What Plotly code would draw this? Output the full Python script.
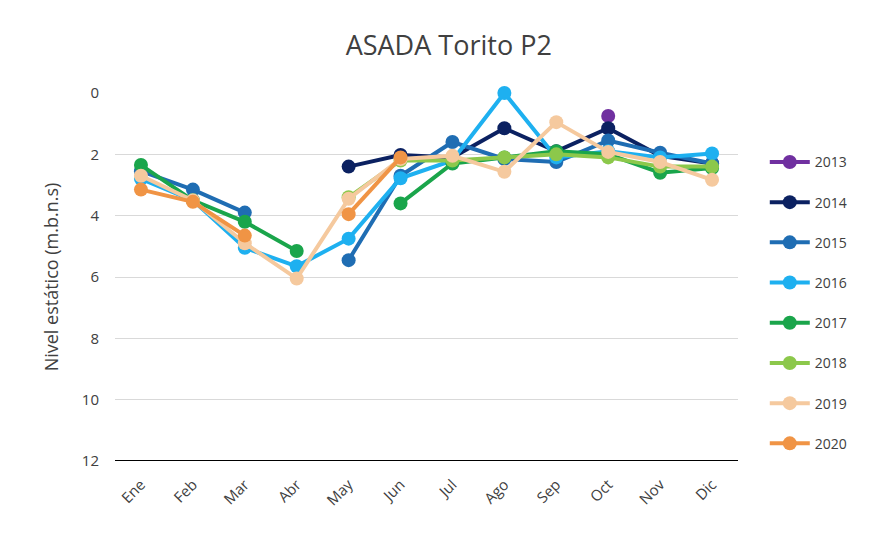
import plotly.graph_objects as go

months = ["Ene", "Feb", "Mar", "Abr", "May", "Jun", "Jul", "Ago", "Sep", "Oct", "Nov", "Dic"]
years = ["2013", "2014", "2015", "2016", "2017", "2018", "2019", "2020"]

v2013 = [None, None, None, None, None, None, None, None, None, 0.75, None, None]
v2014 = [None, None, None, None, 2.4, 2.02, 2.1, 1.15, 1.9, 1.15, 2.05, 2.3]
v2015 = [2.55, 3.15, 3.9, None, 5.45, 2.7, 1.6, 2.15, 2.25, 1.55, 1.95, 2.3]
v2016 = [2.8, 3.5, 5.05, 5.65, 4.75, 2.78, 2.2, 0.0, 2.1, 1.9, 2.1, 1.97]
v2017 = [2.35, 3.5, 4.2, 5.15, None, 3.6, 2.3, 2.1, 1.9, 2.0, 2.6, 2.45]
v2018 = [None, None, None, None, 3.4, 2.2, 2.2, 2.1, 2.0, 2.1, 2.4, 2.4]
v2019 = [2.7, 3.5, 4.9, 6.05, 3.45, 2.15, 2.05, 2.57, 0.95, 1.92, 2.25, 2.83]
v2020 = [3.15, 3.55, 4.65, None, 3.95, 2.1, None, None, None, None, None, None]

series = [v2013, v2014, v2015, v2016, v2017, v2018, v2019, v2020]
colors = ["#7030A0", "#0B2161", "#1F6DB3", "#1EB0F0", "#1AA54B", "#8CC84B", "#F5C99E", "#F09445"]

xs = list(range(len(months)))
fig = go.Figure()
for name, vals, col in zip(years, series, colors):
    fig.add_trace(go.Scatter(
        x=xs, y=vals, name=name, mode="lines+markers",
        line=dict(color=col, width=4),
        marker=dict(color=col, size=14),
        legendgroup=name, cliponaxis=False,
    ))

fig.update_layout(
    width=878, height=534,
    paper_bgcolor="white", plot_bgcolor="white",
    margin=dict(l=107, r=148, t=85, b=81),
    title=dict(text="ASADA Torito P2", x=0.502, xref="container", xanchor="center",
               y=0.93, yanchor="middle",
               font=dict(family="Open Sans, Liberation Sans, sans-serif", size=27, color="#404040")),
    font=dict(family="Open Sans, Liberation Sans, sans-serif", color="#404040"),
    legend=dict(x=1.043, xanchor="left", y=0.855, yanchor="top",
                font=dict(size=14, color="#404040"), tracegroupgap=19,
                itemwidth=40, bgcolor="rgba(0,0,0,0)"),
    showlegend=True,
)
fig.update_xaxes(
    range=[-0.5, 11.5], tickvals=xs, ticktext=months, tickangle=-45,
    showgrid=False, zeroline=False, showline=False,
    tickfont=dict(size=15, color="#404040"), ticks="outside", ticklen=8,
    tickcolor="rgba(0,0,0,0)",
)
fig.update_yaxes(
    range=[12, 0], tickvals=[0, 2, 4, 6, 8, 10, 12], showgrid=True, gridcolor="#D9D9D9",
    gridwidth=1, zeroline=False, showline=False, ticks="outside", ticklen=12,
    tickcolor="rgba(0,0,0,0)",
    tickfont=dict(size=15, color="#404040"),
    title=dict(text="Nivel estático (m.b.n.s)", font=dict(size=18, color="#404040"), standoff=18),
)
fig.add_shape(type="line", xref="paper", yref="y", x0=0, x1=1, y0=12, y1=12,
              line=dict(color="black", width=2), layer="below")

fig.write_html("out.html")
